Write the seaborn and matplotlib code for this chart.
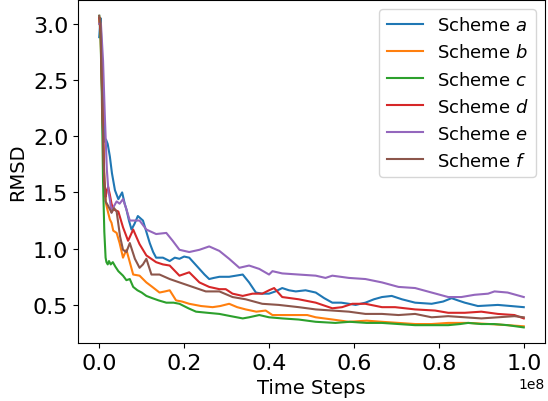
import numpy as np
import pandas as pd
import seaborn as sns
import matplotlib
matplotlib.use("Agg")
import matplotlib.pyplot as plt

# x positions are in units of 1e8 time steps
x_a = [0.0, 0.003, 0.013, 0.016, 0.020, 0.025, 0.030, 0.037, 0.045, 0.054, 0.060, 0.064, 0.070, 0.076,
       0.083, 0.091, 0.097, 0.103, 0.111, 0.119, 0.127, 0.134, 0.150, 0.166, 0.178, 0.189, 0.200, 0.212,
       0.224, 0.236, 0.248, 0.259, 0.270, 0.283, 0.306, 0.322, 0.338, 0.353, 0.369, 0.384, 0.400, 0.415,
       0.431, 0.447, 0.463, 0.486, 0.510, 0.530, 0.549, 0.570, 0.588, 0.604, 0.627, 0.647, 0.666, 0.689,
       0.713, 0.744, 0.783, 0.810, 0.830, 0.845, 0.861, 0.892, 0.939, 0.970, 1.0]
rmsd_a = [2.88, 3.05, 1.95, 1.97, 1.93, 1.82, 1.67, 1.52, 1.44, 1.50, 1.40, 1.35, 1.25, 1.17,
          1.22, 1.29, 1.27, 1.25, 1.15, 1.05, 0.97, 0.92, 0.92, 0.89, 0.92, 0.91, 0.93, 0.92,
          0.87, 0.82, 0.77, 0.73, 0.74, 0.75, 0.75, 0.76, 0.77, 0.70, 0.61, 0.60, 0.60, 0.62,
          0.65, 0.63, 0.62, 0.63, 0.61, 0.56, 0.52, 0.52, 0.51, 0.50, 0.52, 0.55, 0.57, 0.58,
          0.55, 0.52, 0.51, 0.53, 0.56, 0.54, 0.52, 0.49, 0.50, 0.49, 0.48]

x_b = [0.0, 0.002, 0.008, 0.012, 0.016, 0.021, 0.025, 0.029, 0.033, 0.041, 0.048, 0.056, 0.064, 0.072,
       0.080, 0.095, 0.111, 0.125, 0.142, 0.155, 0.166, 0.181, 0.195, 0.212, 0.240, 0.267, 0.285, 0.306,
       0.325, 0.345, 0.370, 0.392, 0.408, 0.431, 0.455, 0.490, 0.510, 0.550, 0.588, 0.630, 0.666, 0.705,
       0.744, 0.783, 0.822, 0.869, 0.920, 0.962, 1.0]
rmsd_b = [3.0, 3.05, 2.2, 1.6, 1.4, 1.32, 1.26, 1.23, 1.16, 1.14, 1.05, 0.92, 0.99, 0.88,
          0.77, 0.76, 0.70, 0.66, 0.61, 0.62, 0.63, 0.54, 0.53, 0.51, 0.49, 0.48, 0.49, 0.51,
          0.48, 0.46, 0.44, 0.45, 0.41, 0.41, 0.41, 0.41, 0.39, 0.37, 0.35, 0.36, 0.35, 0.34,
          0.33, 0.33, 0.34, 0.34, 0.33, 0.32, 0.31]

x_c = [0.0, 0.003, 0.006, 0.009, 0.012, 0.015, 0.017, 0.020, 0.023, 0.027, 0.032, 0.038, 0.045, 0.056,
       0.064, 0.072, 0.080, 0.090, 0.100, 0.111, 0.125, 0.140, 0.158, 0.175, 0.189, 0.210, 0.228, 0.255,
       0.283, 0.310, 0.338, 0.353, 0.377, 0.400, 0.431, 0.470, 0.510, 0.556, 0.590, 0.630, 0.666, 0.705,
       0.744, 0.783, 0.822, 0.850, 0.869, 0.900, 0.930, 0.962, 1.0]
rmsd_c = [3.07, 2.9, 2.4, 1.6, 1.15, 0.92, 0.88, 0.86, 0.89, 0.86, 0.88, 0.84, 0.80, 0.76,
          0.72, 0.73, 0.66, 0.63, 0.61, 0.58, 0.56, 0.54, 0.52, 0.52, 0.51, 0.47, 0.44, 0.43,
          0.42, 0.40, 0.38, 0.39, 0.41, 0.39, 0.38, 0.37, 0.35, 0.34, 0.35, 0.34, 0.34, 0.33,
          0.32, 0.32, 0.32, 0.33, 0.34, 0.33, 0.33, 0.32, 0.30]

x_d = [0.0, 0.004, 0.008, 0.012, 0.015, 0.018, 0.021, 0.025, 0.029, 0.033, 0.045, 0.056, 0.068, 0.080,
       0.088, 0.095, 0.111, 0.134, 0.150, 0.166, 0.189, 0.212, 0.236, 0.259, 0.283, 0.298, 0.314, 0.338,
       0.361, 0.384, 0.400, 0.412, 0.431, 0.470, 0.510, 0.549, 0.572, 0.596, 0.627, 0.666, 0.697, 0.744,
       0.791, 0.822, 0.861, 0.900, 0.939, 0.978, 1.0]
rmsd_d = [3.05, 2.9, 2.2, 1.6, 1.46, 1.52, 1.55, 1.48, 1.40, 1.35, 1.33, 1.19, 1.07, 1.17,
          1.10, 1.04, 0.94, 0.88, 0.86, 0.85, 0.76, 0.79, 0.70, 0.66, 0.64, 0.64, 0.60, 0.58,
          0.60, 0.60, 0.63, 0.65, 0.57, 0.55, 0.52, 0.47, 0.48, 0.51, 0.51, 0.48, 0.48, 0.46,
          0.45, 0.43, 0.43, 0.44, 0.42, 0.41, 0.38]

x_e = [0.0, 0.004, 0.009, 0.013, 0.018, 0.022, 0.025, 0.029, 0.035, 0.041, 0.048, 0.056, 0.064, 0.072,
       0.080, 0.095, 0.111, 0.134, 0.158, 0.173, 0.189, 0.212, 0.236, 0.259, 0.283, 0.306, 0.330, 0.353,
       0.377, 0.400, 0.408, 0.431, 0.470, 0.510, 0.533, 0.549, 0.588, 0.627, 0.666, 0.705, 0.744, 0.783,
       0.822, 0.853, 0.884, 0.916, 0.931, 0.962, 1.0]
rmsd_e = [3.0, 3.0, 2.67, 2.2, 1.7, 1.5, 1.44, 1.32, 1.38, 1.42, 1.40, 1.44, 1.35, 1.25,
          1.25, 1.25, 1.17, 1.13, 1.14, 1.07, 0.99, 0.97, 0.99, 1.02, 0.98, 0.91, 0.83, 0.85,
          0.82, 0.77, 0.80, 0.78, 0.77, 0.76, 0.74, 0.76, 0.74, 0.73, 0.70, 0.66, 0.65, 0.61,
          0.57, 0.57, 0.59, 0.60, 0.62, 0.61, 0.57]

x_f = [0.0, 0.003, 0.007, 0.011, 0.015, 0.018, 0.021, 0.029, 0.035, 0.041, 0.049, 0.056, 0.064, 0.072,
       0.084, 0.095, 0.103, 0.111, 0.123, 0.142, 0.166, 0.189, 0.220, 0.251, 0.283, 0.314, 0.345, 0.384,
       0.423, 0.470, 0.510, 0.549, 0.588, 0.627, 0.666, 0.705, 0.744, 0.783, 0.822, 0.861, 0.900, 0.939,
       0.978, 1.0]
rmsd_f = [3.07, 3.0, 2.3, 1.7, 1.42, 1.40, 1.38, 1.32, 1.36, 1.33, 1.11, 0.99, 0.97, 1.05,
          0.91, 0.83, 0.86, 0.91, 0.77, 0.77, 0.73, 0.70, 0.66, 0.62, 0.62, 0.57, 0.55, 0.51,
          0.50, 0.48, 0.46, 0.45, 0.44, 0.42, 0.42, 0.41, 0.42, 0.39, 0.40, 0.39, 0.38, 0.39,
          0.40, 0.39]

schemes = ['a', 'b', 'c', 'd', 'e', 'f']
xs = [x_a, x_b, x_c, x_d, x_e, x_f]
ys = [rmsd_a, rmsd_b, rmsd_c, rmsd_d, rmsd_e, rmsd_f]

frames = []
for s, x, y in zip(schemes, xs, ys):
    frames.append(pd.DataFrame({'step': np.array(x) * 1e8, 'rmsd': y,
                                'scheme': 'Scheme $' + s + '$'}))
df = pd.concat(frames, ignore_index=True)

fig, ax = plt.subplots(figsize=(5.48, 4.02), dpi=100)
sns.lineplot(data=df, x='step', y='rmsd', hue='scheme', palette='tab10',
             estimator=None, linewidth=1.5, ax=ax)

ax.set_xlabel('Time Steps', fontsize=14)
ax.set_ylabel('RMSD', fontsize=14)
ax.tick_params(labelsize=16)
ax.xaxis.get_offset_text().set_fontsize(10)

handles, labels = ax.get_legend_handles_labels()
ax.legend(handles, labels, loc='upper right', fontsize=13)

plt.subplots_adjust(left=78/548, right=545/548, top=0.997, bottom=58/402)
plt.savefig('out.png', dpi=100)
